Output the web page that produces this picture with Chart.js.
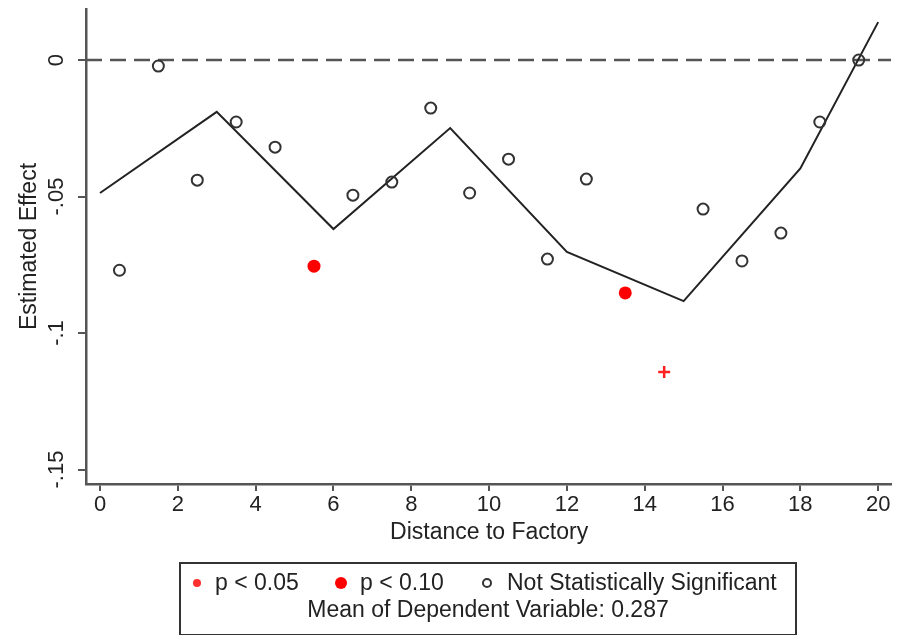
<!DOCTYPE html>
<html>
<head>
<meta charset="utf-8">
<script src="https://cdn.jsdelivr.net/npm/chart.js@4.4.1/dist/chart.umd.min.js"></script>
<style>
  html, body { margin: 0; padding: 0; background: #fff; }
  #wrap { width: 902px; height: 635px; }
</style>
</head>
<body>
<div id="wrap"><canvas id="effectChart" width="902" height="635"></canvas></div>
<script>
// estimates by distance bin (bin midpoints)
const distNotSig = [0.5, 1.5, 2.5, 3.5, 4.5, 6.5, 7.5, 8.5, 9.5, 10.5, 11.5, 12.5, 15.5, 16.5, 17.5, 18.5, 19.5];
const effNotSig  = [-0.077, -0.0022, -0.044, -0.0227, -0.0319, -0.0495, -0.0447, -0.0176, -0.0487, -0.0363, -0.0729, -0.0436, -0.0546, -0.0736, -0.0634, -0.0227, 0.0];
const distP10 = [5.5, 13.5];
const effP10  = [-0.0755, -0.0853];
const distP05 = [14.5];
const effP05  = [-0.1143];

// piecewise fit
const fitDist = [0, 3, 6, 9, 12, 15, 18, 20];
const fitEff  = [-0.0487, -0.019, -0.0619, -0.0249, -0.0703, -0.0883, -0.0397, 0.0139];

const xTicks = [0, 2, 4, 6, 8, 10, 12, 14, 16, 18, 20];
const yTicks = [-0.15, -0.1, -0.05, 0];
const yTickLabels = ['-.15', '-.1', '-.05', '0'];
const xRange = [-0.36, 20.33];
const yRange = [-0.1553, 0.0187];

const xTitle = 'Distance to Factory';
const yTitle = 'Estimated Effect';
const legendNote = 'Mean of Dependent Variable: 0.287';

const FONT = '"Liberation Sans", Arial, sans-serif';
const INK = '#222';
const AXIS = '#555';

const toPts = (xs, ys) => xs.map((x, i) => ({ x: x, y: ys[i] }));

// axis labels, titles and the legend box
const stataText = {
  id: 'stataText',
  afterDraw(chart) {
    const ctx = chart.ctx;
    const xs = chart.scales.x, ys = chart.scales.y;
    ctx.save();
    ctx.fillStyle = INK;
    ctx.textAlign = 'center';
    ctx.textBaseline = 'middle';

    ctx.font = '22px ' + FONT;
    xTicks.forEach(v => ctx.fillText(String(v), xs.getPixelForValue(v), 505));
    yTicks.forEach((v, i) => {
      ctx.save();
      ctx.translate(57, ys.getPixelForValue(v));
      ctx.rotate(-Math.PI / 2);
      ctx.fillText(yTickLabels[i], 0, 0);
      ctx.restore();
    });

    ctx.font = '23px ' + FONT;
    ctx.fillText(xTitle, xs.getPixelForValue(10), 533);
    ctx.save();
    ctx.translate(30, (chart.chartArea.top + chart.chartArea.bottom) / 2);
    ctx.rotate(-Math.PI / 2);
    ctx.fillText(yTitle, 0, 0);
    ctx.restore();

    // legend box
    ctx.strokeStyle = '#333';
    ctx.lineWidth = 2;
    ctx.strokeRect(180, 563, 616, 72);

    const items = [
      { ds: 3, mx: 197, tx: 215 },
      { ds: 2, mx: 341, tx: 360 },
      { ds: 1, mx: 487, tx: 507 }
    ];
    ctx.textAlign = 'left';
    ctx.font = '23px ' + FONT;
    items.forEach(it => {
      const d = chart.data.datasets[it.ds];
      ctx.save();
      ctx.fillStyle = d.legendColor;
      ctx.strokeStyle = d.legendColor;
      ctx.lineWidth = d.legendBorder;
      ctx.beginPath();
      ctx.arc(it.mx, 583, d.legendRadius, 0, Math.PI * 2);
      if (d.legendFill) ctx.fill(); else ctx.stroke();
      ctx.restore();
      ctx.fillStyle = INK;
      ctx.fillText(d.label, it.tx, 584);
    });
    ctx.textAlign = 'center';
    ctx.fillText(legendNote, 488, 611);
    ctx.restore();
  }
};

new Chart(document.getElementById('effectChart'), {
  type: 'scatter',
  data: {
    datasets: [
      {
        type: 'line', label: 'fit', data: toPts(fitDist, fitEff),
        borderColor: '#222', borderWidth: 2, pointRadius: 0, fill: false, tension: 0, order: 2
      },
      {
        label: 'Not Statistically Significant', data: toPts(distNotSig, effNotSig),
        pointStyle: 'circle', pointRadius: 5.5, pointBorderWidth: 2,
        borderColor: '#333', backgroundColor: 'rgba(0,0,0,0)', order: 1,
        legendColor: '#333', legendRadius: 4, legendBorder: 2, legendFill: false
      },
      {
        label: 'p < 0.10', data: toPts(distP10, effP10),
        pointStyle: 'circle', pointRadius: 6.5, pointBorderWidth: 0,
        borderColor: '#ff0000', backgroundColor: '#ff0000', order: 1,
        legendColor: '#ff0000', legendRadius: 6, legendBorder: 0, legendFill: true
      },
      {
        label: 'p < 0.05', data: toPts(distP05, effP05),
        pointStyle: 'cross', pointRadius: 6, pointBorderWidth: 2.5,
        borderColor: '#ff2020', backgroundColor: '#ff2020', order: 1,
        legendColor: '#ff3030', legendRadius: 4, legendBorder: 0, legendFill: true
      },
      {
        type: 'line', label: 'zero', data: toPts(xRange, [0, 0]),
        borderColor: '#555', borderWidth: 2.5, borderDash: [16, 8], pointRadius: 0, fill: false, order: 3
      }
    ]
  },
  options: {
    responsive: false,
    animation: false,
    clip: false,
    layout: { padding: { top: 9, right: 11, left: 0, bottom: 0 } },
    plugins: { legend: { display: false }, tooltip: { enabled: false } },
    scales: {
      x: {
        type: 'linear', min: xRange[0], max: xRange[1],
        afterBuildTicks: s => { s.ticks = xTicks.map(v => ({ value: v })); },
        afterFit: s => { s.height = 151; },
        ticks: { display: false },
        grid: { drawOnChartArea: false, drawTicks: true, tickLength: 7, color: AXIS, lineWidth: 2 },
        border: { display: true, color: AXIS, width: 2.5 }
      },
      y: {
        type: 'linear', min: yRange[0], max: yRange[1],
        afterBuildTicks: s => { s.ticks = yTicks.map(v => ({ value: v })); },
        afterFit: s => { s.width = 86; },
        ticks: { display: false },
        grid: { drawOnChartArea: false, drawTicks: true, tickLength: 8, color: AXIS, lineWidth: 2 },
        border: { display: true, color: AXIS, width: 2.5 }
      }
    }
  },
  plugins: [stataText]
});
</script>
</body>
</html>
